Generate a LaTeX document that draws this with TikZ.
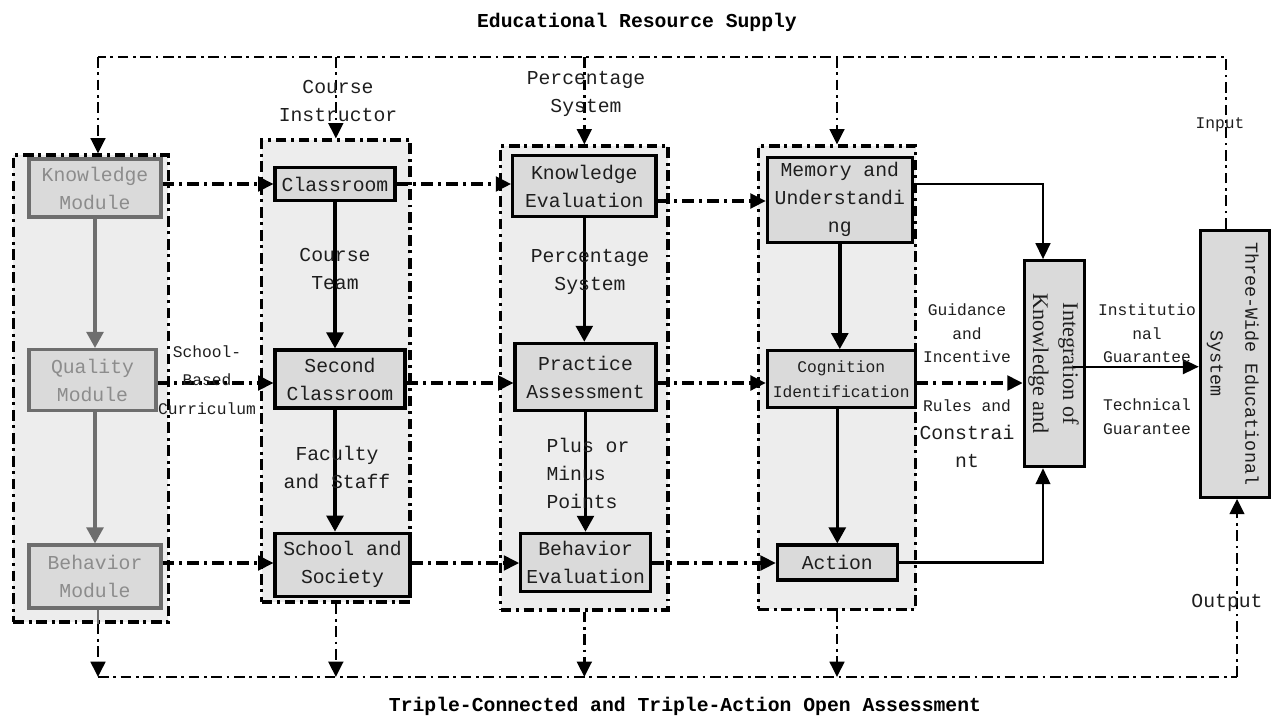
\documentclass[tikz,border=0pt]{standalone}
\usepackage{fontspec}
\setmonofont{Liberation Mono}
\newfontfamily\intfont{Liberation Serif}
\usetikzlibrary{arrows.meta,calc}

\definecolor{colfill}{RGB}{237,237,237}
\definecolor{boxfill}{RGB}{218,218,218}
\definecolor{greyline}{RGB}{110,110,110}
\definecolor{greytext}{RGB}{140,140,140}
\definecolor{inktext}{RGB}{30,30,30}

\tikzset{every picture/.style={line width=0.75pt}}
\tikzset{
  bigtxt/.style={font=\ttfamily\fontsize{14.8}{21}\selectfont, text=inktext, align=center, inner sep=0pt},
  smalltxt/.style={font=\ttfamily\fontsize{12.2}{17.6}\selectfont, text=inktext, align=center, inner sep=0pt},
  headtxt/.style={font=\ttfamily\bfseries\fontsize{14.8}{18}\selectfont, text=black, inner sep=0pt},
  stage/.style={draw, line width=2.3pt, fill=boxfill, inner sep=0pt, bigtxt},
  greystage/.style={stage, draw=greyline, text=greytext},
  column/.style={draw, line width=2.3pt, fill=colfill, inner sep=0pt, dash pattern=on 8pt off 3.5pt on 2.2pt off 3.5pt},
  flow/.style={line width=2.3pt, dash pattern=on 8.5pt off 4pt on 2.2pt off 4pt, -{Triangle[length=11.5pt,width=11pt]}},
  loopline/.style={line width=1.9pt, dash pattern=on 8pt off 3.5pt on 2pt off 3.5pt},
  supply/.style={loopline, -{Triangle[length=11.5pt,width=11pt]}},
  feed/.style={line width=2.6pt, -{Triangle[length=12pt,width=12.5pt]}},
  greyfeed/.style={feed, draw=greyline, color=greyline},
  link/.style={line width=1.8pt, -{Triangle[length=12pt,width=11pt]}},
}

\begin{document}
\begin{tikzpicture}[x=0.75pt,y=0.75pt,yscale=-1,xscale=1]
\useasboundingbox (0,0) rectangle (1271,721);

% helper coordinates
\coordinate (tl) at (98,57);
\coordinate (tr) at (1226,57);
\coordinate (bl) at (98,677);
\coordinate (br) at (1237,677);
\coordinate (r1) at (0,184);
\coordinate (r1b) at (0,201);
\coordinate (r2) at (0,383);
\coordinate (r3) at (0,563);
\coordinate (ikin) at (1043,0);

%Shape: Rectangle (columns)
\node[column, minimum width=116.25pt, minimum height=350.25pt] (c1) at (90.8,388.5) {};
\node[column, minimum width=111.2pt, minimum height=346.5pt] (c2) at (335.85,371) {};
\node[column, minimum width=125.5pt, minimum height=348pt] (c3) at (584.35,378) {};
\node[column, minimum width=118pt, minimum height=347.5pt] (c4) at (837,377.65) {};

%Shape: Rectangle (stages)
\node[greystage, minimum width=99pt, minimum height=43.5pt] (km) at (95,188) {Knowledge\\Module};
\node[greystage, minimum width=95.25pt, minimum height=45.75pt] (qm) at (92.5,380) {Quality\\Module};
\node[greystage, minimum width=99pt, minimum height=47.25pt] (bm) at (95,576.5) {Behavior\\Module};

\node[stage, minimum width=90pt, minimum height=25pt] (cr) at (335,184) {Classroom};
\node[stage, minimum width=97.5pt, minimum height=43.5pt] (sc) at (340,379) {Second\\Classroom};
\node[stage, minimum width=101.25pt, minimum height=47.25pt] (ss) at (342.5,564.7) {School and\\Society};

\node[stage, minimum width=107.5pt, minimum height=46.3pt] (ke) at (584.3,186) {Knowledge\\Evaluation};
\node[stage, minimum width=105.75pt, minimum height=50.5pt] (pa) at (585.5,377) {Practice\\Assessment};
\node[stage, minimum width=97.5pt, minimum height=43.8pt] (be) at (585.7,562.5) {Behavior\\Evaluation};

\node[stage, minimum width=108.75pt, minimum height=63.75pt] (mu) at (839.8,199.8) {Memory and\\Understandi\\ng};
\node[stage, minimum width=110.8pt, minimum height=42.5pt, font=\ttfamily\fontsize{12.2}{18.5}\selectfont] (ci) at (841.2,379) {Cognition\\Identification};
\node[stage, minimum width=90pt, minimum height=26.25pt] (ac) at (837.3,562.5) {Action};

\node[stage, minimum width=43.7pt, minimum height=154.5pt, font=\intfont\fontsize{16.7}{22.5}\selectfont] (ik) at (1054.2,363.7)
  {\rotatebox{-90}{\begin{tabular}{@{}c@{}}Integration of\\Knowledge and\end{tabular}}};
\node[stage, minimum width=51.5pt, minimum height=200.5pt, font=\ttfamily\fontsize{13.8}{26}\selectfont] (tw) at (1235,363.7)
  {\rotatebox{-90}{\begin{tabular}{@{}c@{}}Three-Wide Educational\\System\end{tabular}}};

%Straight Lines (inside columns)
\draw[greyfeed] (km.south) -- (km.south |- qm.north);
\draw[greyfeed] (km.south |- qm.south) -- (km.south |- bm.north);
\draw[greyline, line width=2.2pt] (bm.south -| tl) -- (tl |- c1.south);
\draw[feed] (cr.south) -- (cr.south |- sc.north);
\draw[feed] (cr.south |- sc.south) -- (cr.south |- ss.north);
\draw[feed] (ke.south) -- (ke.south |- pa.north);
\draw[feed] (pa.south) -- (pa.south |- be.north);
\draw[feed] (mu.south) -- (mu.south |- ci.north);
\draw[feed] (ac.north |- ci.south) -- (ac.north);

%Straight Lines (rows)
\draw[flow] (km.east |- r1) -- (cr.west |- r1);
\draw[flow] (cr.east |- r1) -- (ke.west |- r1);
\draw[flow] (ke.east |- r1b) -- (mu.west |- r1b);
\draw[flow] (qm.east |- r2) -- (sc.west |- r2);
\draw[flow] (sc.east |- r2) -- (pa.west |- r2);
\draw[flow] (pa.east |- r2) -- (ci.west |- r2);
\draw[flow] (ci.east |- r2) -- (ik.west |- r2);
\draw[flow] (bm.east |- r3) -- (ss.west |- r3);
\draw[flow] (ss.east |- r3) -- (be.west |- r3);
\draw[flow] (be.east |- r3) -- (ac.west |- r3);

%Straight Lines (to integration and system)
\draw[link] (mu.east |- r1) -- (ikin |- r1) -- (ikin |- ik.north);
\draw[link] (ac.east) -- (ikin |- ac.east) -- (ikin |- ik.south);
\draw[link] ($(ik.east)+(-13,3)$) -- ($(tw.west)+(0,3)$);

%Straight Lines (supply loop)
\draw[loopline] (tr |- tw.north) -- (tr) -- (tl);
\draw[supply] (tl) -- (tl |- c1.north);
\draw[supply] (c2.north |- tl) -- (c2.north);
\draw[supply] (c3.north |- tl) -- (c3.north);
\draw[supply] (c4.north |- tl) -- (c4.north);

%Straight Lines (assessment loop)
\draw[supply] (tl |- c1.south) -- (bl);
\draw[supply] (c2.south) -- (c2.south |- bl);
\draw[supply] (c3.south) -- (c3.south |- bl);
\draw[supply] (c4.south) -- (c4.south |- bl);
\draw[loopline] (bl) -- (br);
\draw[supply] (br) -- (br |- tw.south);

% Text Node
\node[headtxt] (tsupply) at (637,22) {Educational Resource Supply};
% Text Node
\node[headtxt] (tassess) at (685,706) {Triple-Connected and Triple-Action Open Assessment};
% Text Node
\node[bigtxt] (lcinstr) at (338,101) {Course\\Instructor};
% Text Node
\node[bigtxt] (lpctop) at (586,94) {Percentage\\System};
% Text Node
\node[bigtxt] (lcteam) at (335,269) {Course\\Team};
% Text Node
\node[bigtxt] (lfaculty) at (337,467) {Faculty\\and Staff};
% Text Node
\node[bigtxt] (lpcmid) at (590,272) {Percentage\\System};
% Text Node
\node[bigtxt, anchor=west, align=left] (lplus) at (546,473) {Plus or\\Minus\\Points};
% Text Node
\node[smalltxt, font=\ttfamily\fontsize{12.2}{21.5}\selectfont] (lschool) at (207,380) {School-\\Based\\Curriculum};
% Text Node
\node[smalltxt] (lguide) at (967,333.5) {Guidance\\and\\Incentive};
% Text Node
\node[bigtxt] (lrules) at (967,433.5) {{\fontsize{12.2}{21}\selectfont Rules and}\\Constrai\\nt};
% Text Node
\node[smalltxt] (linst) at (1147,333.5) {Institutio\\nal\\Guarantee};
% Text Node
\node[smalltxt, font=\ttfamily\fontsize{12.2}{18}\selectfont] (ltech) at (1147,417) {Technical\\Guarantee};
% Text Node
\node[smalltxt] (linput) at (1220,125) {Input};
% Text Node
\node[bigtxt] (loutput) at (1227,603) {Output};

\end{tikzpicture}
\end{document}
